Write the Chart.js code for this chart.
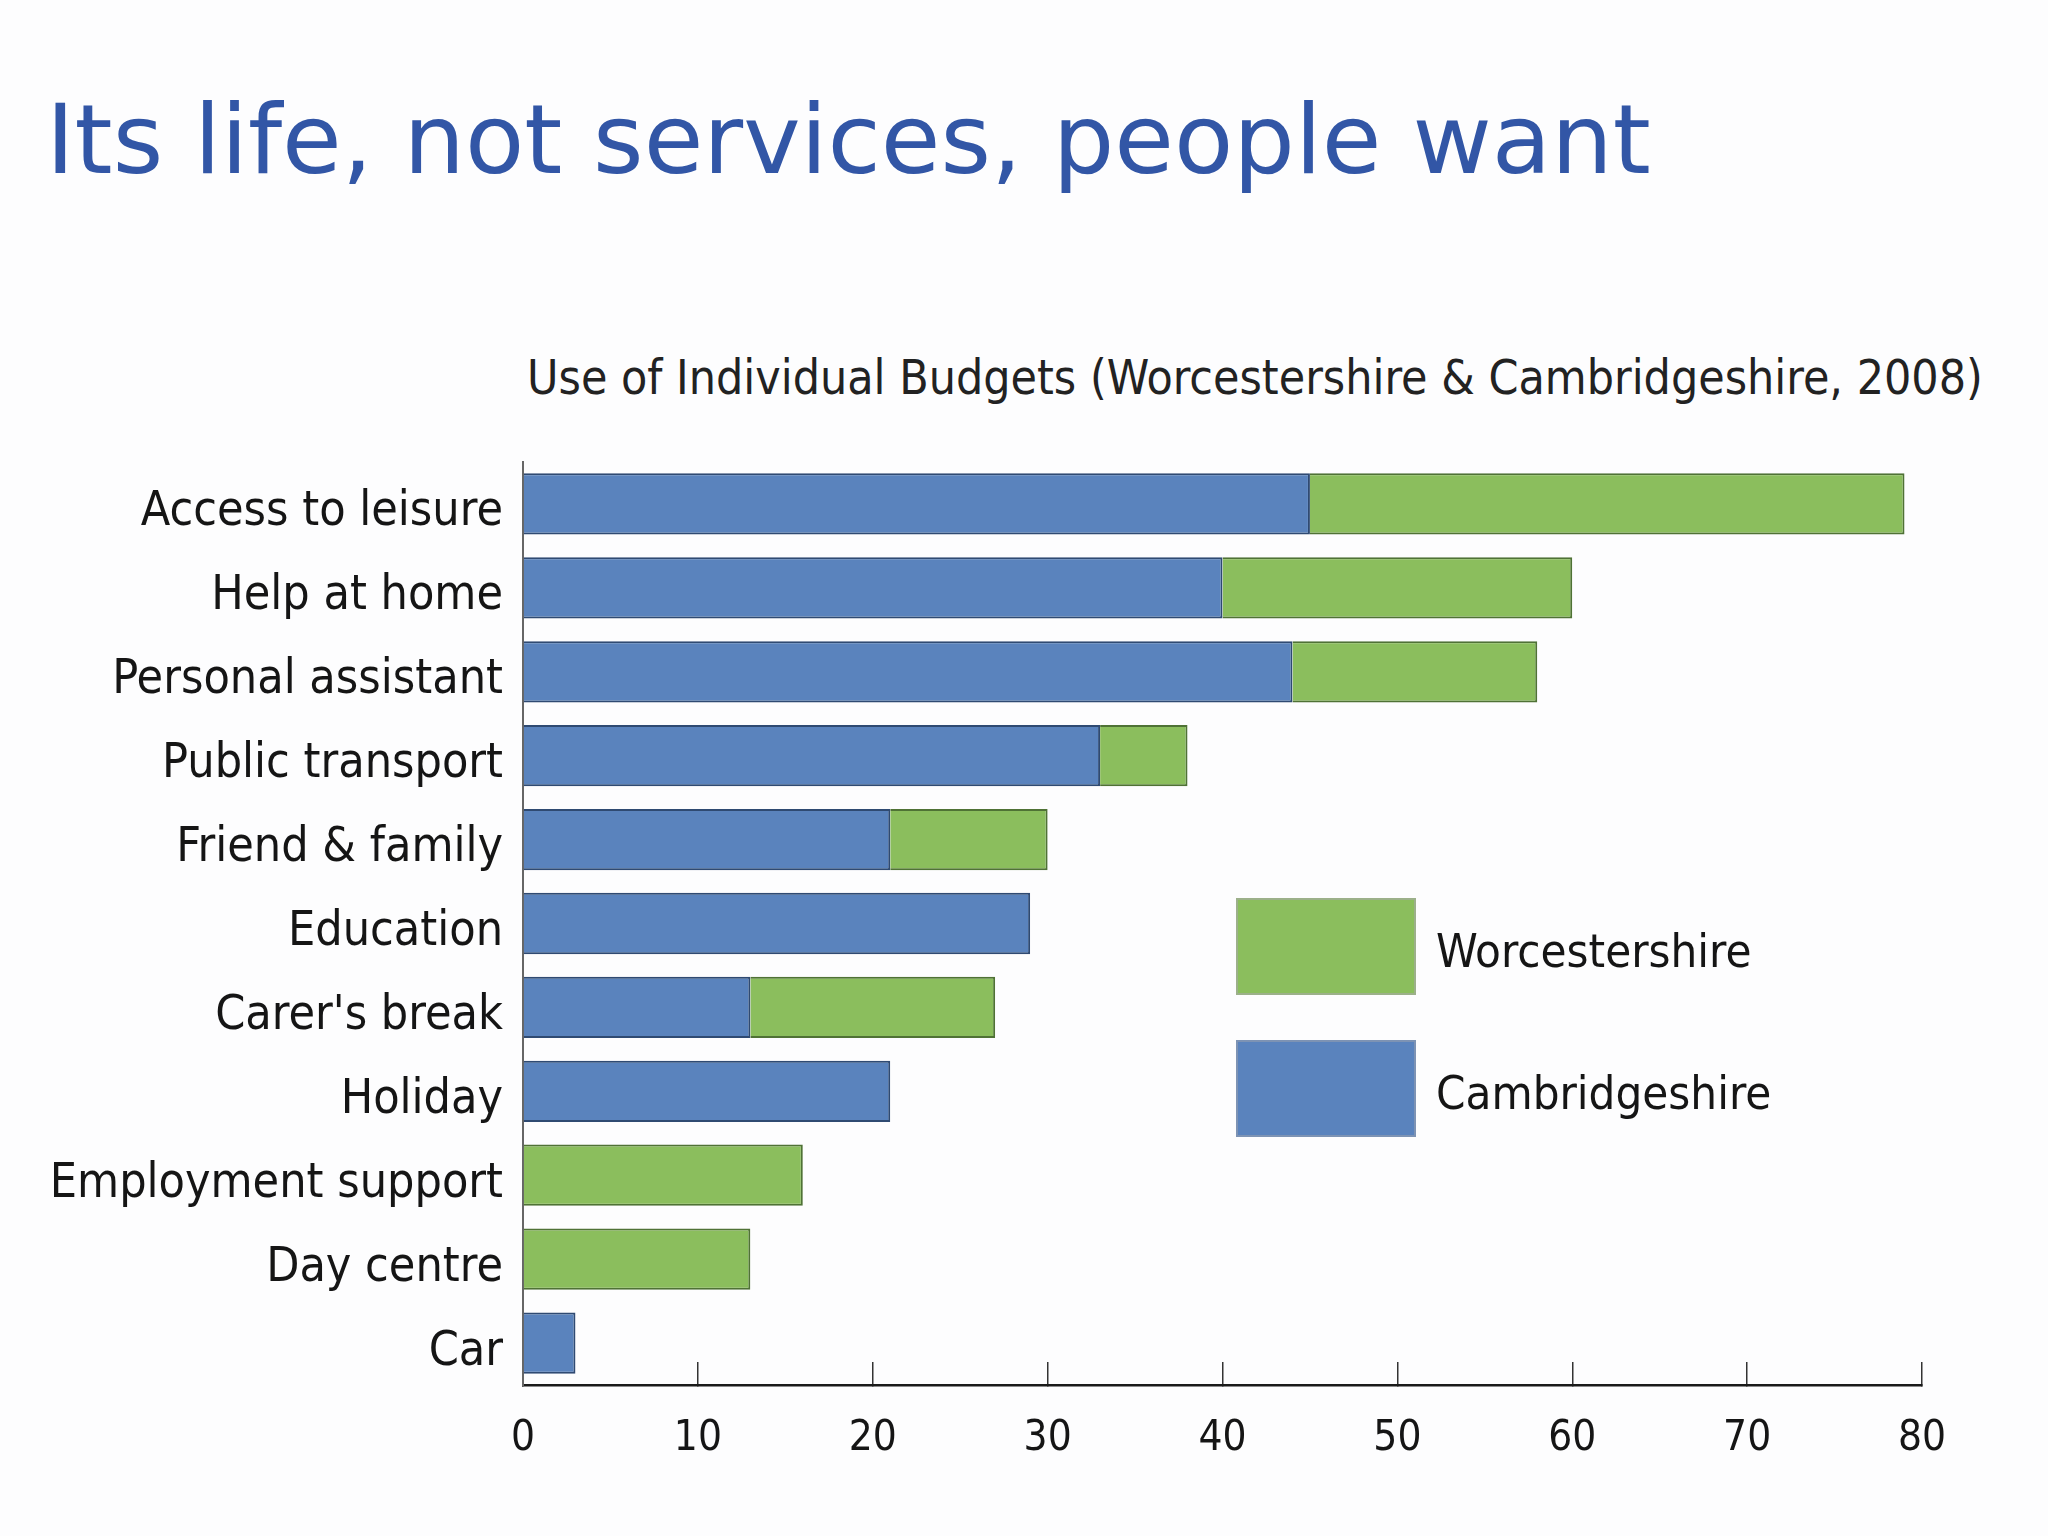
<!DOCTYPE html>
<html>
<head>
<meta charset="utf-8">
<title>Its life, not services, people want</title>
<script src="https://cdn.jsdelivr.net/npm/chart.js@4.4.1/dist/chart.umd.min.js"></script>
<style>
  html, body { margin: 0; padding: 0; background: #fdfdfe; }
  #page { position: relative; width: 2048px; height: 1536px; overflow: hidden; }
  #title {
    position: absolute; left: 46px; top: 80px; margin: 0;
    font-family: "DejaVu Sans", Verdana, sans-serif; font-weight: normal;
    font-size: 97px; line-height: 120px; color: #3256a6; white-space: nowrap;
  }
  #subtitle {
    position: absolute; left: 527px; top: 348px; margin: 0;
    font-family: "DejaVu Sans Condensed", "Liberation Sans Narrow", sans-serif;
    font-size: 47.8px; line-height: 60px; color: #222; white-space: nowrap;
  }
  canvas { position: absolute; left: 0; top: 0; }
</style>
</head>
<body>
<div id="page">
  <h1 id="title">Its life, not services, people want</h1>
  <div id="subtitle">Use of Individual Budgets (Worcestershire &amp; Cambridgeshire, 2008)</div>
  <canvas id="budgetChart" width="2048" height="1536"></canvas>
</div>
<script>
// --- DATA ---
const categories = ['Access to leisure', 'Help at home', 'Personal assistant', 'Public transport',
  'Friend & family', 'Education', "Carer's break", 'Holiday', 'Employment support', 'Day centre', 'Car'];
const cambridgeshire = [45, 40, 44, 33, 21, 29, 13, 21, 0, 0, 3];
const worcestershire = [34, 20, 14, 5, 9, 0, 14, 0, 16, 13, 0];
const xTicks = [0, 10, 20, 30, 40, 50, 60, 70, 80];

const labelFont = '"DejaVu Sans Condensed", "Liberation Sans Narrow", sans-serif';

// legend drawn inside the plot, Worcestershire on top
const boxLegend = {
  id: 'boxLegend',
  afterDraw(chart) {
    const ctx = chart.ctx;
    const items = chart.data.datasets.slice().reverse();
    ctx.save();
    items.forEach((ds, i) => {
      const x = 1237, y = 899 + i * 142, w = 178, h = 95;
      ctx.fillStyle = ds.backgroundColor;
      ctx.fillRect(x, y, w, h);
      ctx.strokeStyle = ds.legendEdge;
      ctx.lineWidth = 2;
      ctx.strokeRect(x, y, w, h);
      ctx.fillStyle = '#151515';
      ctx.font = '47px ' + labelFont;
      ctx.textBaseline = 'middle';
      ctx.textAlign = 'left';
      ctx.fillText(ds.label, 1436, y + h / 2 + 8);
    });
    ctx.restore();
  }
};

new Chart(document.getElementById('budgetChart'), {
  type: 'bar',
  data: {
    labels: categories,
    datasets: [
      { label: 'Cambridgeshire', data: cambridgeshire, backgroundColor: '#5a83bd',
        borderColor: '#2f4a72', borderWidth: 2, legendEdge: '#7d93b4' },
      { label: 'Worcestershire', data: worcestershire, backgroundColor: '#8bbe5d',
        borderColor: '#4f7235', borderWidth: 2, legendEdge: '#9cb08a' }
    ]
  },
  options: {
    indexAxis: 'y',
    responsive: false,
    animation: false,
    devicePixelRatio: 1,
    layout: { padding: { left: 0, top: 462, right: 126, bottom: 0 } },
    barPercentage: 0.73,
    categoryPercentage: 1,
    plugins: {
      legend: { display: false },
      title: { display: false },
      tooltip: { enabled: false }
    },
    scales: {
      x: {
        stacked: true, min: 0, max: 80,
        afterBuildTicks: (s) => { s.ticks = xTicks.map(v => ({ value: v })); },
        afterFit: (s) => { s.height = 151; },
        grid: { drawOnChartArea: false, drawTicks: true, tickLength: -23, color: '#333', lineWidth: 1.5 },
        border: { display: true, color: '#1a1a1a', width: 2.5 },
        ticks: { color: '#151515', padding: 52, font: { family: labelFont, size: 42 } }
      },
      y: {
        stacked: true,
        afterFit: (s) => { s.width = 523; },
        grid: { display: false, drawTicks: false },
        border: { display: true, color: '#666', width: 2 },
        ticks: { color: '#151515', padding: 20, labelOffset: 9, font: { family: labelFont, size: 48 } }
      }
    }
  },
  plugins: [boxLegend]
});
</script>
</body>
</html>
